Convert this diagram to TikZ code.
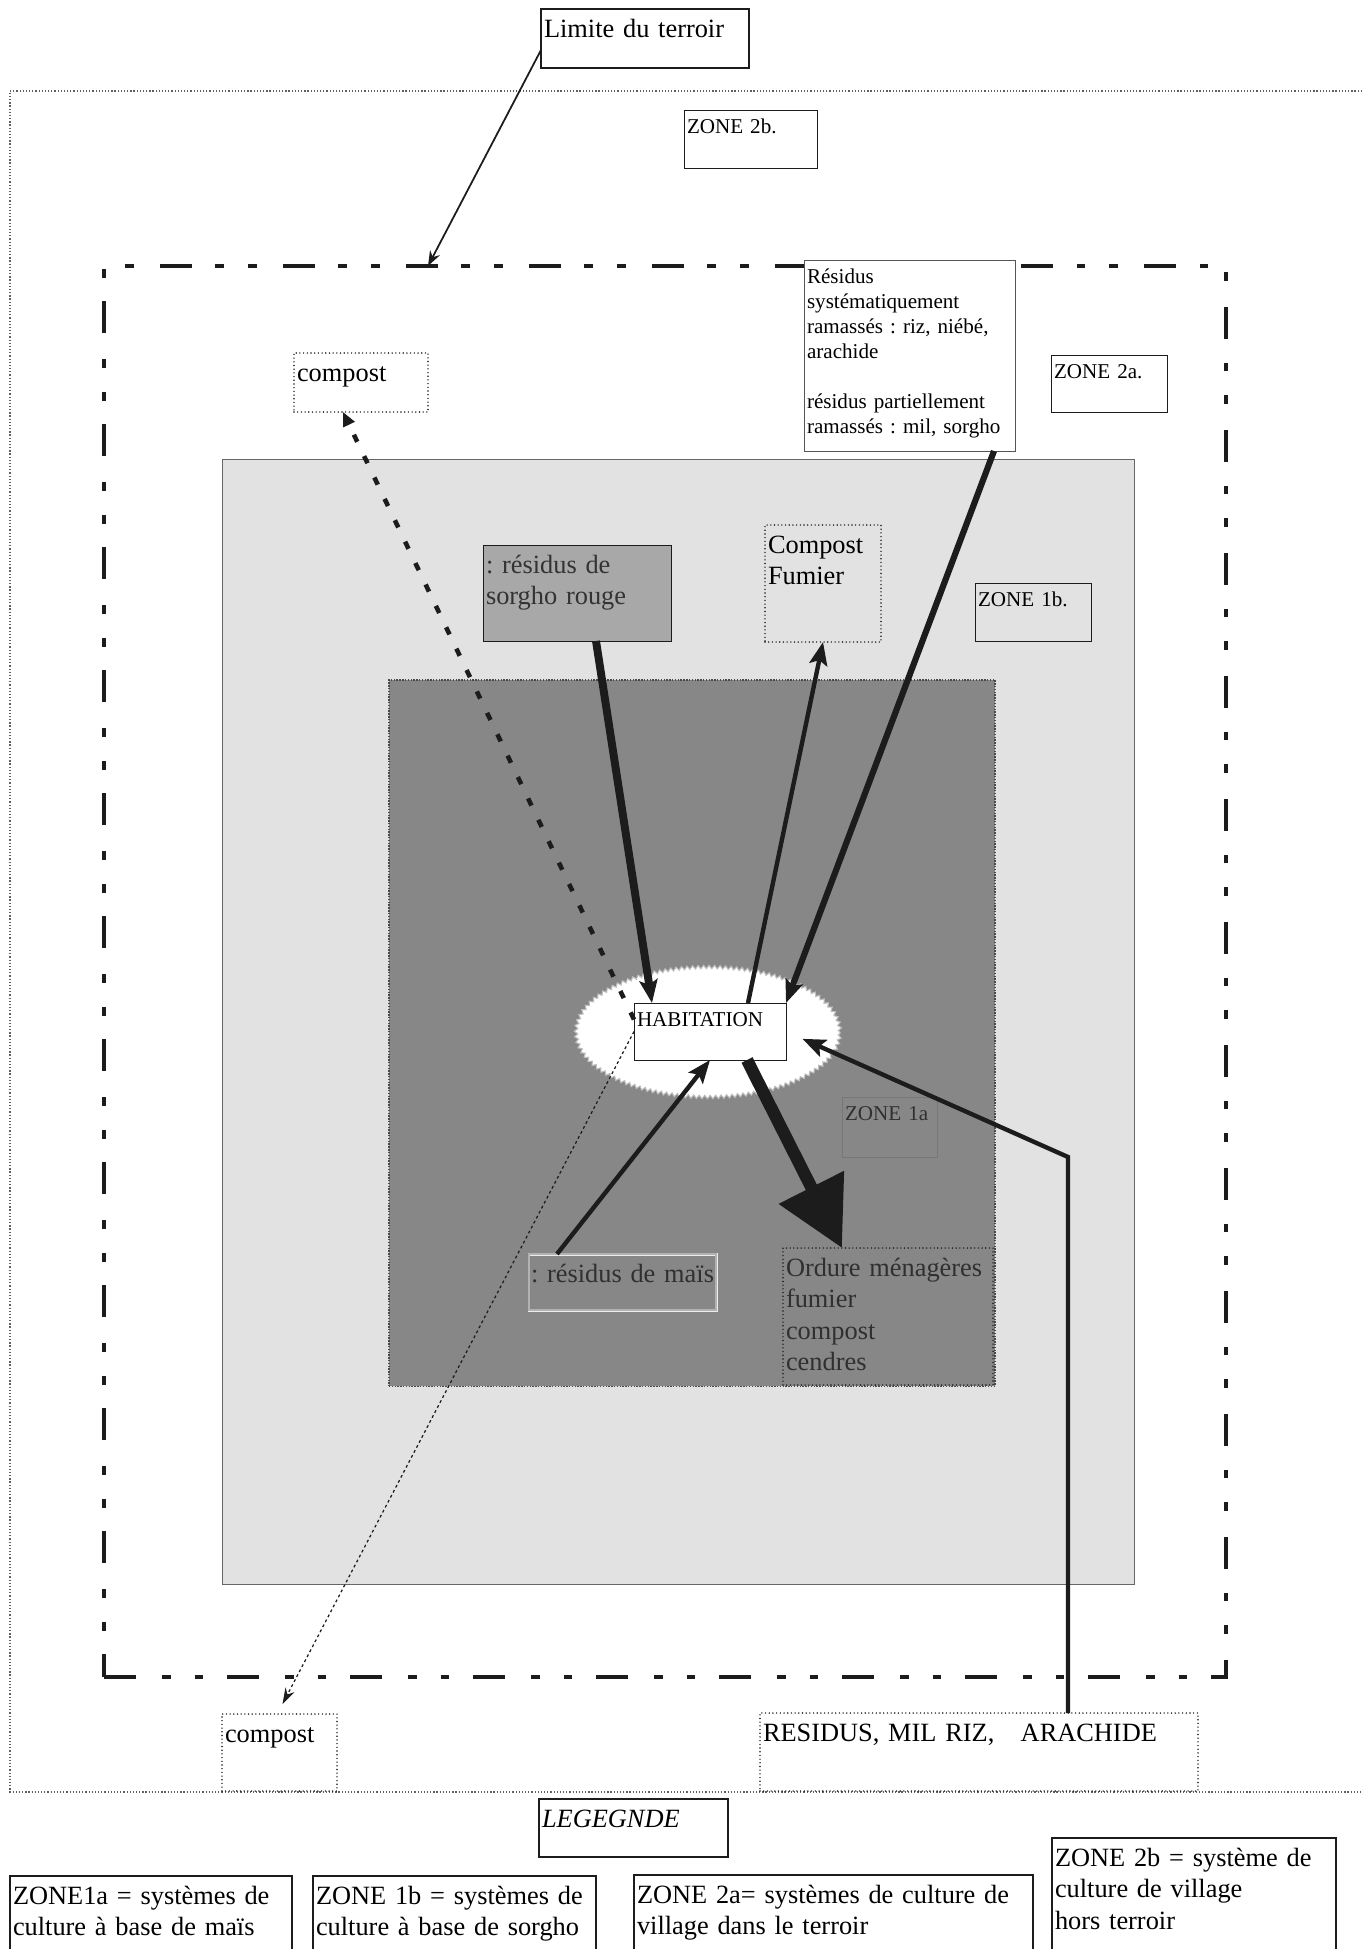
\documentclass[tikz,border=0pt]{standalone}
\usepackage{fontspec}
\setmainfont{Liberation Serif}
\frenchspacing
\usepackage{tikz}
\usetikzlibrary{positioning,calc,arrows.meta,decorations.pathmorphing}
\tikzset{plan/.style={x=0.2mm,y=-0.2mm,every node/.style={inner sep=0pt,outer sep=0pt}}}
\definecolor{trait}{HTML}{1C1C1C}
\definecolor{gris1b}{HTML}{E2E2E2}
\definecolor{gris1a}{HTML}{878787}
\definecolor{grisorgho}{HTML}{A8A8A8}
\definecolor{terne}{HTML}{303030}
\tikzset{
  cadre/.style={draw=trait,line width=0.5pt,anchor=north west,align=left,inner xsep=0.6mm,inner ysep=0.7mm},
  cadrepoint/.style={cadre,line width=0.9pt,line cap=round,dash pattern=on 0pt off 2.1pt},
  grand/.style={font=\fontsize{15}{18}\selectfont,text height=4.9mm},
  petit/.style={font=\fontsize{12}{14.3}\selectfont,text height=3.9mm},
  legende/.style={cadre,grand,line width=1.1pt},
  fond/.style={anchor=north west,inner sep=0pt},
  fleche/.style={trait,-{Stealth[length=4.6mm,width=3.6mm,inset=0.9mm]}},
}

\begin{document}
\begin{tikzpicture}[plan,
  terroir/.style={fond,draw=trait,line width=2.6pt,dash pattern=on 18pt off 15pt on 5pt off 13.5pt on 5pt off 13.5pt},
  hors/.style={draw=trait!70,line width=0.6pt,dash pattern=on 0.7pt off 1.1pt},
  zone1b/.style={fond,fill=gris1b,draw=gray!80!black,line width=0.5pt},
  zone1a/.style={fond,fill=gris1a,draw=trait!80,line width=0.6pt,dash pattern=on 0.8pt off 0.8pt},
  cour/.style={fill=white,draw=gray!50,line width=0.6pt,decorate,decoration={zigzag,segment length=1.1mm,amplitude=0.35mm}},
  tirets/.style={trait,line width=2.6pt,dash pattern=on 4.5pt off 9pt,-{Triangle[length=2.8mm,width=2.4mm]}},
  pointille/.style={trait,line width=0.7pt,dash pattern=on 1.6pt off 1.6pt,-{Stealth[length=3.2mm,width=2mm]}},
  grosse/.style={trait,line width=7pt,-{Triangle[length=13.6mm,width=14mm]}}]
  \fill[white] (0,0) rectangle (1362,1949);
  \useasboundingbox (0,0) rectangle (1362,1949);
  % zones
  \draw[hors] (1362,91) -- (10,91) -- (10,1792) -- (1362,1792);
  \node[terroir,minimum width=224.4mm,minimum height=282.2mm] (ter) at (104,266) {};
  \node[zone1b,minimum width=182.4mm,minimum height=225mm] (z1b) at (222,459) {};
  \node[zone1a,minimum width=121.2mm,minimum height=141.2mm] (z1a) at (389,680) {};
  \path[cour] (708,1032) ellipse [x radius=26.4mm,y radius=13mm];
  % boites
  \node[cadre,grand,line width=1pt,text width=40.4mm,text depth=5.5mm] (lim) at (541,9) {Limite du terroir};
  \node[cadre,petit,text width=25.4mm,text depth=6.3mm] (z2b) at (684,110) {ZONE 2b.};
  \node[cadre,petit,fill=white,draw=trait!75,text width=41mm,text depth=32.9mm] (res) at (804,260)
    {Résidus\\systématiquement\\ramassés : riz, niébé,\\arachide\\[14.3pt]résidus partiellement\\ramassés : mil, sorgho};
  \node[cadre,petit,text width=22mm,text depth=6.1mm] (z2a) at (1051,355) {ZONE 2a.};
  \node[cadrepoint,grand,text width=25.6mm,text depth=5.5mm] (cp1) at (294,353) {compost};
  \node[cadre,grand,fill=grisorgho,text=black!80,text width=36.4mm,text depth=12.9mm] (sor) at (483,545) {: résidus de\\sorgho rouge};
  \node[cadrepoint,grand,text width=22mm,text depth=17.1mm] (cf) at (765,525) {Compost\\Fumier};
  \node[cadre,petit,text width=22mm,text depth=6.3mm] (z1bt) at (975,583) {ZONE 1b.};
  \node[cadre,petit,fill=white,text width=29.2mm,text depth=6.1mm] (hab) at (634,1003) {HABITATION};
  \node[cadre,petit,draw=trait!60,text=terne,text width=17.8mm,text depth=6.7mm] (z1at) at (842,1097) {ZONE 1a};
  \node[cadre,grand,draw=gray!15,double=gray!60,double distance=0.7pt,text=terne,inner xsep=0.4mm,text width=36.6mm,text depth=4.9mm] (mais) at (529,1254) {\mbox{: résidus de maïs}};
  \node[cadrepoint,grand,text=terne,text width=40.8mm,text depth=21.1mm] (ord) at (783,1248) {Ordure ménagères\\fumier\\compost\\cendres};
  \node[cadrepoint,grand,text width=21.8mm,text depth=9.1mm] (cp2) at (222,1714) {compost};
  \node[cadrepoint,grand,text width=86.4mm,text depth=9.3mm] (rsd) at (760,1713) {RESIDUS, MIL RIZ,~~~ARACHIDE};
  % legende
  \node[legende,text width=36.6mm,text depth=5.3mm] (leg) at (539,1799) {\textit{LEGEGNDE}};
  \node[legende,text width=55.2mm,text depth=10.5mm] (l1a) at (10,1876) {ZONE1a = systèmes de\\culture à base de maïs};
  \node[legende,text width=55.4mm,text depth=10.5mm] (l1b) at (313,1876) {ZONE 1b = systèmes de\\culture à base de sorgho};
  \node[legende,text width=78.6mm,text depth=10.7mm] (l2a) at (634,1875) {ZONE 2a= systèmes de culture de\\village dans le terroir};
  \node[legende,text width=55.6mm,text depth=18.1mm] (l2b) at (1052,1838) {ZONE 2b = système de\\culture de village\\hors terroir};
  % fleches
  \coordinate (coude) at (1068,1157);
  \draw[tirets] ($(hab.west)+(0,-12)$) -- ($(cp1.south west)+(49,0)$);
  \draw[pointille] (hab.west) -- ($(cp2.north)+(3,-10)$);
  \draw[fleche,line width=1pt,-{Stealth[length=3mm,width=2.2mm]}] ($(lim.south west)+(0,-18)$) -- ($(ter.north west)+(324,0)$);
  \draw[fleche,line width=4.5pt] ($(sor.south)+(19,0)$) -- ($(hab.north west)+(18,0)$);
  \draw[fleche,line width=2.5pt] ($(hab.north)+(38,0)$) -- (cf.south);
  \draw[fleche,line width=3.5pt] ($(res.south east)+(-21,0)$) -- (hab.north east);
  \draw[fleche,line width=2.5pt] ($(mais.north west)+(28,0)$) -- (hab.south);
  \draw[grosse] ($(hab.south)+(37,0)$) -- ($(ord.north west)+(59,0)$);
  \draw[fleche,line width=2.5pt,shorten >=3.6mm] (rsd.north -| coude) -- (coude) -- (hab.east);
\end{tikzpicture}
\end{document}
